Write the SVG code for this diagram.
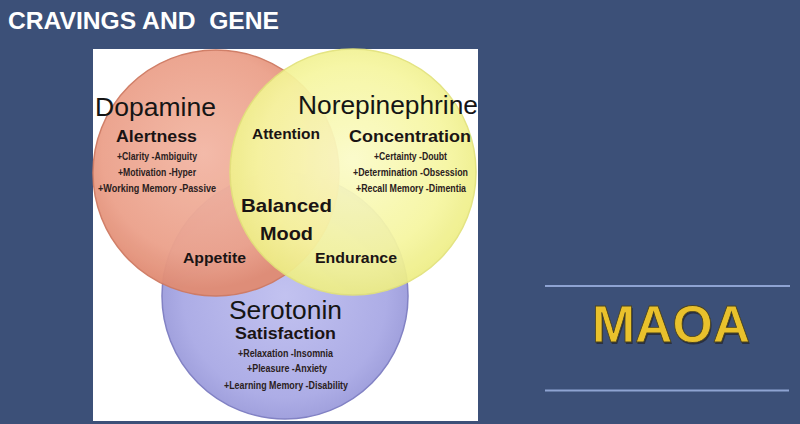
<svg xmlns="http://www.w3.org/2000/svg" width="800" height="424" viewBox="0 0 800 424">
  <defs>
    <radialGradient id="gRed" cx="0.45" cy="0.42" r="0.55">
      <stop offset="0" stop-color="#f3b8a6"/>
      <stop offset="0.75" stop-color="#eca28c"/>
      <stop offset="1" stop-color="#e08c74"/>
    </radialGradient>
    <radialGradient id="gYel" cx="0.5" cy="0.45" r="0.55">
      <stop offset="0" stop-color="#fbfbc8"/>
      <stop offset="0.7" stop-color="#f6f6a0"/>
      <stop offset="1" stop-color="#eded84"/>
    </radialGradient>
    <radialGradient id="gBlue" cx="0.5" cy="0.5" r="0.55">
      <stop offset="0" stop-color="#c2c2f0"/>
      <stop offset="0.75" stop-color="#adade6"/>
      <stop offset="1" stop-color="#9a9ad8"/>
    </radialGradient>
  </defs>
  <style>
    .big { font-family: "Liberation Sans", Arial, sans-serif; fill: #151515; }
    .b { font-family: "Liberation Sans", Arial, sans-serif; font-weight: bold; fill: #1a1414; }
    .s { font-family: "Liberation Sans", Arial, sans-serif; font-weight: bold; fill: #2a2020; font-size: 10px; }
    .rule { stroke: #8ea3d2; stroke-width: 2; }
  </style>

  <rect x="0" y="0" width="800" height="424" fill="#3c5078"/>

  <g id="title">
    <text x="8" y="29" xml:space="preserve" font-family="'Liberation Sans', Arial, sans-serif" font-weight="bold" font-size="23" fill="#ffffff" textLength="271" lengthAdjust="spacingAndGlyphs">CRAVINGS AND  GENE</text>
  </g>

  <g id="panel">
    <rect x="93" y="49" width="385" height="372" fill="#ffffff"/>
  </g>

  <g id="serotonin">
    <circle cx="285" cy="296" r="123" fill="url(#gBlue)" stroke="#8282c4" stroke-width="1.5"/>
  </g>
  <g id="dopamine">
    <circle cx="216" cy="173" r="123" fill="url(#gRed)" stroke="#cf7a62" stroke-width="1.5" opacity="0.96"/>
  </g>
  <g id="norepinephrine">
    <circle cx="353" cy="172" r="123" fill="url(#gYel)" stroke="#e2e27a" stroke-width="1.5" opacity="0.93"/>
  </g>

  <g id="dopamine-text">
    <text class="big" x="95" y="116" font-size="26" textLength="121" lengthAdjust="spacingAndGlyphs">Dopamine</text>
    <text class="b" x="156.5" y="142" font-size="17" text-anchor="middle" textLength="81" lengthAdjust="spacingAndGlyphs">Alertness</text>
    <text class="s" x="157" y="160" text-anchor="middle" textLength="80" lengthAdjust="spacingAndGlyphs">+Clarity -Ambiguity</text>
    <text class="s" x="157" y="176" text-anchor="middle" textLength="78" lengthAdjust="spacingAndGlyphs">+Motivation -Hyper</text>
    <text class="s" x="157" y="192" text-anchor="middle" textLength="118" lengthAdjust="spacingAndGlyphs">+Working Memory -Passive</text>
  </g>

  <g id="norepinephrine-text">
    <text class="big" x="298" y="114" font-size="26" textLength="180" lengthAdjust="spacingAndGlyphs">Norepinephrine</text>
    <text class="b" x="286" y="139" font-size="15" text-anchor="middle" textLength="68" lengthAdjust="spacingAndGlyphs">Attention</text>
    <text class="b" x="410" y="142" font-size="17" text-anchor="middle" textLength="122" lengthAdjust="spacingAndGlyphs">Concentration</text>
    <text class="s" x="410.5" y="160" text-anchor="middle" textLength="73" lengthAdjust="spacingAndGlyphs">+Certainty -Doubt</text>
    <text class="s" x="410.5" y="176" text-anchor="middle" textLength="115" lengthAdjust="spacingAndGlyphs">+Determination -Obsession</text>
    <text class="s" x="411" y="192" text-anchor="middle" textLength="110" lengthAdjust="spacingAndGlyphs">+Recall Memory -Dimentia</text>
  </g>

  <g id="overlap-text">
    <text class="b" x="286.5" y="212" font-size="19" text-anchor="middle" textLength="91" lengthAdjust="spacingAndGlyphs">Balanced</text>
    <text class="b" x="286.5" y="240" font-size="19" text-anchor="middle" textLength="53" lengthAdjust="spacingAndGlyphs">Mood</text>
    <text class="b" x="214.5" y="263" font-size="15" text-anchor="middle" textLength="63" lengthAdjust="spacingAndGlyphs">Appetite</text>
    <text class="b" x="356" y="263" font-size="15" text-anchor="middle" textLength="82" lengthAdjust="spacingAndGlyphs">Endurance</text>
  </g>

  <g id="serotonin-text">
    <text class="big" x="285.5" y="319" font-size="25" text-anchor="middle" textLength="113" lengthAdjust="spacingAndGlyphs">Serotonin</text>
    <text class="b" x="285.5" y="339" font-size="17" text-anchor="middle" textLength="101" lengthAdjust="spacingAndGlyphs">Satisfaction</text>
    <text class="s" x="285.5" y="357" text-anchor="middle" textLength="95" lengthAdjust="spacingAndGlyphs">+Relaxation -Insomnia</text>
    <text class="s" x="287" y="372" text-anchor="middle" textLength="80" lengthAdjust="spacingAndGlyphs">+Pleasure -Anxiety</text>
    <text class="s" x="286" y="389" text-anchor="middle" textLength="124" lengthAdjust="spacingAndGlyphs">+Learning Memory -Disability</text>
  </g>

  <g id="maoa">
    <line class="rule" x1="545" y1="286" x2="790" y2="286"/>
    <line class="rule" x1="545" y1="390.5" x2="789" y2="390.5"/>
    <text x="672" y="343.5" font-family="'Liberation Sans', Arial, sans-serif" font-weight="bold" font-size="51" fill="#23232a" text-anchor="middle" textLength="158" lengthAdjust="spacingAndGlyphs" opacity="0.7">MAOA</text>
    <text x="671" y="342" font-family="'Liberation Sans', Arial, sans-serif" font-weight="bold" font-size="51" fill="#e9c12c" stroke="#4a4420" stroke-width="0.8" text-anchor="middle" textLength="158" lengthAdjust="spacingAndGlyphs">MAOA</text>
  </g>
</svg>
